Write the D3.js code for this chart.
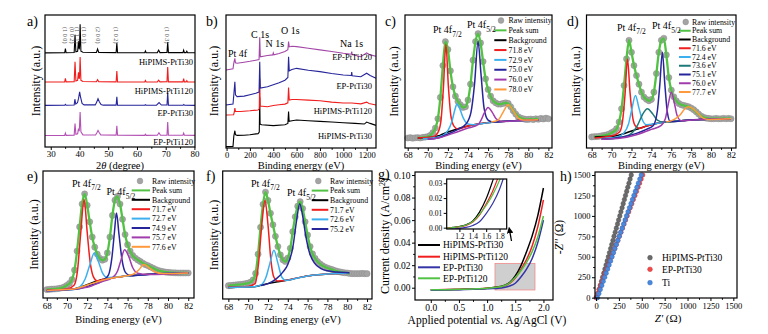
<!DOCTYPE html>
<html><head><meta charset="utf-8">
<script src="https://cdn.jsdelivr.net/npm/d3@7"></script>
<style>body{margin:0;background:#fff}</style>
</head><body>
<svg id="fig" width="768" height="334" xmlns="http://www.w3.org/2000/svg"></svg>
<script>
// ---------------- DATA ----------------
// (a) XRD patterns [2theta, intensity offset %]
const xrdHi30 = [[28,71.3],[34.85,71.4],[35.1,74.5],[35.35,71.4],[38.15,71.6],[38.45,85],[38.75,72.2],[39.35,72.5],[39.65,80],[39.9,74],[40.02,76],[40.22,93],[40.5,72.6],[41.2,71.8],[45.9,71.6],[46.3,74.2],[46.7,71.6],[52.75,71.5],[53.0,78.8],[53.25,71.5],[62.7,71.4],[62.95,72.8],[63.2,71.4],[67.1,71.5],[67.55,73.4],[68.0,71.5],[70.45,71.6],[70.7,79.5],[70.95,71.5],[76.0,71.5],[76.25,73.3],[76.5,71.5],[77.1,71.5],[77.35,72.5],[77.6,71.4],[80.2,71.4]];
const xrdHi120 = [[28,49.2],[34.85,49.3],[35.1,52],[35.35,49.3],[38.15,49.5],[38.45,64.5],[38.75,50],[39.35,50.5],[39.65,56.5],[39.9,51.5],[40.02,53],[40.22,68.2],[40.5,50.5],[41.2,49.6],[45.9,49.4],[46.3,51],[46.7,49.4],[52.75,49.3],[53.0,57.5],[53.25,49.3],[62.7,49.2],[62.95,50.3],[63.2,49.2],[67.1,49.3],[67.55,50.6],[68.0,49.3],[70.45,49.4],[70.7,60.5],[70.95,49.3],[76.0,49.3],[76.25,51.8],[76.5,49.3],[77.1,49.3],[77.35,50.3],[77.6,49.2],[80.2,49.2]];
const xrdEP30 = [[28,31.5],[34.85,31.6],[35.1,32.3],[35.35,31.6],[38.15,31.8],[38.4,36.2],[38.7,32.5],[39.3,33.5],[39.7,37],[40.05,41.8],[40.4,37.5],[40.9,33],[41.6,31.9],[45.5,31.9],[46.0,34],[46.45,36.6],[46.9,34.3],[47.5,32.2],[48.3,31.7],[52.75,31.7],[53.0,38],[53.25,31.7],[62.7,31.6],[62.95,32],[63.2,31.6],[66.8,31.7],[67.7,33.6],[68.5,31.8],[70.45,31.8],[70.7,41.3],[70.95,31.7],[76.0,31.6],[76.3,32.2],[76.6,31.6],[80.2,31.5]];
const xrdEP120 = [[28,8.7],[34.85,8.8],[35.1,10.5],[35.35,8.8],[38.15,9],[38.45,17.8],[38.75,9.6],[39.35,10],[39.65,14],[39.9,12],[40.02,16],[40.22,26.5],[40.5,11.5],[41.2,9.2],[45.6,9.1],[46.1,11],[46.45,12.6],[46.85,11],[47.4,9.2],[52.75,9],[53.0,16],[53.25,9],[62.7,8.8],[62.95,9.6],[63.2,8.8],[67.1,8.9],[67.65,10.8],[68.2,8.9],[70.45,9],[70.7,19],[70.95,8.9],[76.0,8.9],[76.25,10.5],[76.5,8.9],[80.2,8.8]];
const xrdNames = ["HiPIMS-PtTi30","HiPIMS-PtTi120","EP-PtTi30","EP-PtTi120"];
const hklLabels = [["(1 0 0)",35.2],["(0 0 2)",37.7],["(1 1 1)",39.3],["(1 0 1)",41.9],["(2 0 0)",46.6],["(1 0 2)",53.0],["(1 0 3)",70.6]];

// (b) XPS survey [binding energy, intensity offset %]
const survHi30 = [[-5,1],[55,1.2],[62,9],[71,13],[76,10],[90,9.5],[150,9.6],[200,10],[270,10.8],[280,12],[284,38],[287,18],[300,17.5],[400,16.8],[500,17.5],[525,18.5],[531,27.5],[536,20],[560,20.5],[600,21],[700,20.5],[800,20],[900,19.5],[1000,19],[1100,18.5],[1180,18],[1200,19.5],[1230,18.5],[1280,17]];
const survHi120 = [[-5,24.8],[60,25],[66,27],[71,30],[76,27.5],[120,27.5],[200,28],[270,28.6],[280,29.5],[284,52],[288,31.5],[350,31],[400,32],[450,32.5],[500,33],[525,34],[531,45.5],[537,36],[560,36.5],[600,36.5],[700,36],[800,35.5],[900,34.5],[1000,33.8],[1072,33.8],[1150,33.2],[1200,34.5],[1220,33.5],[1280,32.3]];
const survEP30 = [[-5,32.3],[55,33],[62,40],[71,49.8],[76,40],[90,38.6],[150,39],[200,40],[250,41.1],[278,42],[284,64.9],[289,45],[350,46],[400,47.5],[450,49],[500,51],[525,53],[531,68.6],[537,58],[560,59],[600,59.9],[700,58.5],[800,57.4],[900,56],[1000,54.9],[1068,54.5],[1072,57],[1076,54.3],[1150,53.6],[1200,56.2],[1230,54.5],[1280,52.4]];
const survEP120 = [[-5,58.6],[55,59.5],[62,64],[71,67.4],[76,64],[90,63.7],[150,64.5],[200,65.2],[250,66],[278,66.5],[284,83.2],[289,68.6],[350,69.5],[395,70],[400,71.5],[405,70],[450,71],[500,72.5],[525,74],[531,80],[537,76],[560,76.5],[600,76.2],[700,75],[800,73.8],[900,72.5],[1000,71.2],[1068,70.5],[1072,72.5],[1076,70.3],[1150,68.6],[1200,71.5],[1230,70],[1280,69]];

// (c-f) Pt 4f high resolution: raw intensity sampled every 0.25 eV from 68 to 82 eV
const cRaw = [7.5,7.8,7.4,7.7,7.8,7.5,8.0,8.2,8.6,9.5,11.5,15,22,38,62,80,74,58,46,39,35,32.5,30.5,31,36,48,66,80,86,79,65,52,44,39,35.5,34,33,33,33.5,34,33.5,31,28,25.5,23.5,22.5,22,21.5,21.5,21.8,21.4,22,21.6,22.2,21.8,22.4,22];
const dRaw = [8.3,8.5,8.6,8.8,9.2,9.5,9.8,10.5,11.5,12.5,14.5,19.5,29.5,47,67,81,72,62,54.5,48,42,38.3,36.6,35.5,36.5,42,56,72,81,82.5,70,53,43.5,38.5,35.5,33.5,32.5,32,31.5,31,30,28.8,27.2,25.5,24,23,22.5,22.2,22,22,22.2,22,22,22.3,22,22.2,22];
const eRaw = [6.6,6.8,7.0,7.1,7.3,7.6,8.0,8.8,10,11.5,14.5,22,37,56,74,82,73,60,48,40,34.5,31.3,29.8,30.5,35.5,48,65,77,80,74,62,50,42,37,33.5,31.5,30,28.8,27.5,26.3,25.5,24.5,23.6,22.6,21.8,21.2,20.8,20.4,20.2,20,19.9,19.8,19.7,19.7,19.7,19.7,19.7];
const fRaw = [10.4,10.6,10.8,11,11.2,11.4,11.7,12,12.4,13.2,15,20,35,56,74,83.5,77,67,58,49,41,34.5,30.6,29.3,32,39.6,52.6,64.2,72.5,76,70.7,60.3,50,41,35.2,31.8,29.3,27.5,26,25,24.2,23.5,22.9,22.2,21.6,21.2,20.8,20.5,20.3,20,19.8,19.8,19.8,19.8,20,19.8,19.8];

const cBg = [[69,7.5],[70.5,8],[71.2,9.5],[72,12],[73,14.5],[74,16.5],[75,18],[76.5,19.5],[78,20.3],[81,21.3]];
const cP1 = [[69,7.6],[70.5,8.3],[71,11.5],[71.3,20],[71.55,45],[71.8,78],[72.05,46],[72.3,24],[72.6,16.5],[73,14.3],[74,16.5],[75,18],[76.5,19.5],[78,20.3],[81,21.3]];
const cP2 = [[69.5,7],[70.5,7.5],[71.5,9.5],[72,13],[72.4,20],[72.7,29],[72.9,33],[73.1,31],[73.5,23],[74,18],[74.5,17.5],[75.5,18.5],[77,19.8],[79,20.5],[81,21.3]];
const cP3 = [[70,6.5],[71,7.5],[72,10.5],[73,14],[73.8,18],[74.3,27],[74.65,48],[75,80],[75.3,55],[75.6,30],[76,21],[76.5,19.5],[78,20.3],[81,21.3]];
const cP4 = [[70,6.5],[71,7.5],[72.5,11],[74,15],[75,17.5],[75.3,21],[75.6,26],[76,30.5],[76.4,27],[76.8,22],[77.3,20],[78.5,20.3],[81,21.3]];
const cP5 = [[76.3,19.5],[77,21],[77.5,27],[78,32.5],[78.5,28],[79,22.5],[79.5,21],[81,21.3]];
const cNames = ["71.8 eV","72.9 eV","75.0 eV","76.0 eV","78.0 eV"];

const dBg = [[68.3,8.3],[70.5,9.3],[71.5,11.5],[72.5,14],[73.5,16.5],[74.5,18.5],[75.5,19.5],[77,20.5],[79,21.5],[82,22]];
const dP1 = [[68.3,7.6],[70,9],[70.8,12],[71.1,20],[71.35,40],[71.6,67],[71.85,42],[72.1,24],[72.4,16.5],[72.8,14.8],[73.5,16.5],[74.5,18.5],[75.5,19.5],[77,20.5],[79,21.5],[82,22]];
const dP2 = [[69,7],[70.5,8],[71.2,11],[71.7,18],[72,28],[72.4,39.5],[72.75,30],[73.1,21],[73.5,17.5],[74.5,18.5],[75.5,19.5],[77,20.5],[79,21.5],[82,22]];
const dP3 = [[69,6.5],[71,8],[72,11],[72.6,17],[73.1,25],[73.6,29.5],[74.1,26],[74.6,21],[75.2,19.5],[76.5,20.2],[79,21.5],[82,22]];
const dP4 = [[69,6.5],[71,8],[72.5,11],[73.5,14],[74.2,17],[74.6,28],[74.85,48],[75.1,72],[75.35,48],[75.6,27],[75.9,20],[76.5,20],[77,20.5],[79,21.5],[82,22]];
const dP5 = [[69,6.5],[71,7.5],[72.5,10],[74,14],[75,17],[75.4,22],[75.7,33],[76,42],[76.3,34],[76.6,24],[77,20.5],[79,21.5],[82,22]];
const dP6 = [[75.5,19.5],[76.3,21.5],[76.9,25],[77.3,29],[77.7,31],[78.2,29.5],[78.7,26],[79.2,22.5],[79.8,21.5],[82,22]];
const dNames = ["71.6 eV","72.4 eV","73.6 eV","75.1 eV","76.0 eV","77.7 eV"];

const eBg = [[68,6],[70.5,7],[71.5,9],[72.5,12],[73.5,14.5],[74.5,16],[75.5,17],[77,18],[79,19],[82,19.7]];
const eP1 = [[68,6],[70,7],[70.7,10],[71.05,22],[71.35,50],[71.7,77.5],[72,52],[72.3,28],[72.6,17],[73,13.5],[73.5,14.5],[74.5,16],[75.5,17],[77,18],[79,19],[82,19.7]];
const eP2 = [[68,5.8],[70.5,6.5],[71.3,9],[71.8,15],[72.3,27],[72.7,35.5],[73.1,29],[73.5,20],[74,16],[74.8,16.5],[76,17.3],[78,18.5],[80,19.5],[82,19.7]];
const eP3 = [[68,5.8],[71,7],[72.5,10.5],[73.5,13.5],[74.1,18],[74.45,32],[74.7,52],[74.9,67],[75.15,50],[75.45,30],[75.8,20],[76.3,17.5],[78,18.5],[80,19.5],[82,19.7]];
const eP4 = [[68,5.8],[72,8.5],[73.5,13],[74.5,16],[75,21],[75.35,30],[75.7,38],[76.1,33],[76.5,24],[77,19.5],[78,18.5],[82,19.7]];
const eP5 = [[68,6],[70.5,6.8],[71.5,8.8],[72.5,11.5],[73.5,14],[74.5,15.8],[75.5,17],[76.5,18.5],[77.1,22],[77.6,26.3],[78.1,24],[78.7,20.5],[79.5,19.3],[82,19.7]];
const eNames = ["71.7 eV","72.7 eV","74.9 eV","75.7 eV","77.6 eV"];

const fBg = [[68,9],[70.5,9.5],[71.2,10.5],[72,12],[73,13.5],[74,14.8],[75,16.5],[76.5,18.5],[78,19.5],[80.2,20.3]];
const fP1 = [[68,9.3],[70,9.8],[70.7,12],[71.05,28],[71.4,60],[71.7,77],[72,58],[72.3,30],[72.6,17],[73,14],[74,14.8],[75,16.5],[76.5,18.5],[78,19.5],[80.2,20.3]];
const fP2 = [[68,9],[70.5,9.5],[71.3,11],[71.8,17],[72.2,28],[72.6,38],[73,28],[73.4,17],[73.8,14.5],[74.5,15.5],[76,18],[78,19.5],[80.2,20.3]];
const fP3 = [[71.3,10.5],[72,12],[72.8,15.5],[73.5,21],[74,27],[74.5,40],[74.9,62],[75.2,74.5],[75.5,65],[75.8,50],[76.2,36],[76.7,28],[77.3,24],[78,22],[79,21],[80.2,20.5]];
const fNames = ["71.7 eV","72.6 eV","75.2 eV"];

// (g) LSV curves
const potential = [0,0.25,0.5,0.75,1.0,1.1,1.2,1.3,1.4,1.5,1.6,1.7,1.8,1.9,2.0];
const jHi30  = [-0.0020,-0.0018,-0.0015,-0.0012,-0.0005,0.0002,0.0008,0.0020,0.0045,0.0105,0.0195,0.032,0.046,0.064,0.0885];
const jHi120 = [-0.0018,-0.0016,-0.0014,-0.0010,-0.0004,0.0000,0.0005,0.0015,0.0038,0.0085,0.0160,0.025,0.037,0.054,0.078];
const jEP30  = [-0.0022,-0.0020,-0.0017,-0.0014,-0.0010,-0.0008,-0.0005,0.0002,0.0015,0.0040,0.0095,0.0165,0.026,0.040,0.060];
const jEP120 = [-0.0019,-0.0017,-0.0014,-0.0011,-0.0005,0.0000,0.0006,0.0018,0.0042,0.0090,0.0150,0.0225,0.032,0.045,0.0636];
const lsvNames = ["HiPIMS-PtTi30","HiPIMS-PtTi120","EP-PtTi30","EP-PtTi120"];

// (h) Nyquist
const zImag = [0,50,100,150,200,250,300,350,400,450,500,550,600,650,700,750,800,850,900,950,1000,1050,1100,1150,1200,1250,1300,1350,1400,1450,1500];
const zReHi30 = [10,22,35,47,60,72,85,97,110,122,135,147,160,172,185,197,210,222,235,247,260,272,285,297,310,322,335,347,360,372,385];
const zReEP30 = [0,17,34,51,68,85,102,119,136,153,170,187,204,221,238,255,272,289,306,323,340,357,374,391,408,425,442,459,476,493,510];
const zReTi   = [15,31,47,63,79,95,111,127,143,159,175,190,206,222,238,254,270,286,302,318,334,350,366,382,398,414,430,446,462,478,494];
const nyqNames = ["HiPIMS-PtTi30","EP-PtTi30","Ti"];

// ---------------- DRAWING ----------------
const FONT = '"Liberation Serif","Times New Roman",serif';
const svg = d3.select("#fig");
const RED="#f01e1e", LBLUE="#3cb0ee", NAVY="#26259a", PURPLE="#a03cac", ORANGE="#ff9a3c", TEAL="#1e7a78", GREEN="#52c244";

function txt(x,y,s,o={}){
  const t=svg.append("text").attr("x",x).attr("y",y).attr("font-family",FONT)
    .attr("font-size",o.size||10).attr("fill",o.fill||"#000").attr("text-anchor",o.anchor||"start");
  if(o.rotate!==undefined) t.attr("transform",`rotate(${o.rotate},${x},${y})`);
  if(o.italic) t.attr("font-style","italic");
  t.text(s); return t;
}
function frame(x0,y0,x1,y1){
  svg.append("rect").attr("x",x0).attr("y",y0).attr("width",x1-x0).attr("height",y1-y0)
    .attr("fill","none").attr("stroke","#000").attr("stroke-width",1.2);
}
function axB(scale,y,vals,fmt,size,minor,pad){
  const g=svg.append("g").attr("transform",`translate(0,${y})`)
    .call(d3.axisBottom(scale).tickValues(vals).tickSize(3).tickSizeOuter(0).tickPadding(pad===undefined?1.5:pad).tickFormat(fmt||(d=>d)));
  g.select(".domain").remove();
  g.selectAll("text").attr("font-family",FONT).attr("font-size",size||9).attr("fill","#000");
  if(minor){const m=svg.append("g").attr("transform",`translate(0,${y})`).call(d3.axisBottom(scale).tickValues(minor).tickSize(1.8).tickFormat(""));m.select(".domain").remove();}
}
function axL(scale,x,vals,fmt,size,minor){
  const g=svg.append("g").attr("transform",`translate(${x},0)`)
    .call(d3.axisLeft(scale).tickValues(vals).tickSize(3).tickSizeOuter(0).tickPadding(1.5).tickFormat(fmt||(d=>d)));
  g.select(".domain").remove();
  g.selectAll("text").attr("font-family",FONT).attr("font-size",size||9).attr("fill","#000");
  if(minor){const m=svg.append("g").attr("transform",`translate(${x},0)`).call(d3.axisLeft(scale).tickValues(minor).tickSize(1.8).tickFormat(""));m.select(".domain").remove();}
}
function ylab(x,y,s,size){ return txt(x,y,s,{size:size||12,anchor:"middle",rotate:-90}); }

// ---- (a) XRD ----
{
  const x=d3.scaleLinear([28,80.2],[45,195]), y=d3.scaleLinear([0,100],[147,15]);
  const line=d3.line().x(d=>x(d[0])).y(d=>y(d[1]));
  [[xrdHi30,"#000"],[xrdHi120,RED],[xrdEP30,NAVY],[xrdEP120,"#b452b4"]].forEach(([d,c])=>{
    svg.append("path").attr("d",line(d)).attr("fill","none").attr("stroke",c).attr("stroke-width",1.1);
  });
  hklLabels.forEach(([s,t])=>txt(x(t)-2.5,27,s,{size:6.2,fill:"#555",rotate:90}));
  const ly=[65,93.5,116,145];
  xrdNames.forEach((n,i)=>txt(193,ly[i],n,{size:8.5,anchor:"end"}));
  frame(45,15,195,147);
  axB(x,147,[30,40,50,60,70,80],null,9,[35,45,55,65,75],0.8);
  const t=txt(120,168.5,"",{size:10.5,anchor:"middle"});
  t.append("tspan").text("2");t.append("tspan").attr("font-style","italic").text("θ");t.append("tspan").text(" (degree)");
  ylab(40,81,"Intensity (a.u.)");
  txt(27,26,"a)",{size:14});
}
// ---- (b) survey ----
{
  const x=d3.scaleLinear([-5,1280],[226,376]), y=d3.scaleLinear([0,100],[148,15]);
  const line=d3.line().x(d=>x(d[0])).y(d=>y(d[1]));
  [[survHi30,"#000"],[survHi120,RED],[survEP30,NAVY],[survEP120,"#a448a8"]].forEach(([d,c])=>{
    svg.append("path").attr("d",line(d)).attr("fill","none").attr("stroke",c).attr("stroke-width",1.1);
  });
  txt(228,56.5,"Pt 4f",{size:10});
  txt(251,37.5,"C 1s",{size:10});
  txt(265.5,46.5,"N 1s",{size:10});
  txt(281,34,"O 1s",{size:10});
  txt(340,46.5,"Na 1s",{size:10});
  [["EP-PtTi120",60],["EP-PtTi30",89],["HiPIMS-PtTi120",114],["HiPIMS-PtTi30",138.5]].forEach(([s,yy])=>txt(372,yy,s,{size:8.5,anchor:"end"}));
  frame(226,15,376,148);
  axB(x,148,[0,200,400,600,800,1000,1200],null,8.5,[100,300,500,700,900,1100],0.8);
  txt(301,168.5,"Binding energy (eV)",{size:10.5,anchor:"middle"});
  ylab(218,81,"Intensity (a.u.)");
  txt(206,26,"b)",{size:14});
}
// ---- (c-f) XPS ----
const rawE = d3.range(57).map(i=>68+i*0.25);
function xps(p){
  const [x0,y0,x1,y1]=p.box;
  const x=d3.scaleLinear(p.dom,[x0,x1]), y=d3.scaleLinear([0,100],[y1,y0]);
  const pts=p.raw.map((v,i)=>[rawE[i],v]);
  svg.append("g").selectAll("circle").data(pts).join("circle")
    .attr("cx",d=>x(d[0])).attr("cy",d=>y(d[1])).attr("r",3.1)
    .attr("fill","#a4a4a4").attr("stroke","#878787").attr("stroke-width",0.4);
  const line=d3.line().x(d=>x(d[0])).y(d=>y(d[1])).curve(d3.curveMonotoneX);
  const sum=pts.filter(d=>d[0]>=p.sum[0]-1e-6&&d[0]<=p.sum[1]+1e-6);
  svg.append("path").attr("d",line(sum)).attr("fill","none").attr("stroke",GREEN).attr("stroke-width",2.3);
  svg.append("path").attr("d",line(p.bg)).attr("fill","none").attr("stroke","#000").attr("stroke-width",1.5);
  p.comps.forEach((c,i)=>svg.append("path").attr("d",line(c)).attr("fill","none").attr("stroke",p.cols[i]).attr("stroke-width",1.5));
  // legend
  const L=p.leg, names=["Raw intensity","Peak sum","Background"].concat(p.names), cols=[null,GREEN,"#000"].concat(p.cols);
  names.forEach((n,i)=>{
    const yy=L.y0+i*L.dy;
    if(i===0) svg.append("circle").attr("cx",L.mx).attr("cy",yy).attr("r",2.9).attr("fill","#a4a4a4").attr("stroke","#878787").attr("stroke-width",0.4);
    else svg.append("line").attr("x1",L.lx0).attr("x2",L.lx1).attr("y1",yy).attr("y2",yy).attr("stroke",cols[i]).attr("stroke-width",2);
    txt(L.tx,yy+2.7,n,{size:7.8});
  });
  p.pk.forEach(([px,py,sub])=>{const t=txt(px,py,"Pt 4f",{size:10});t.append("tspan").attr("dy",3.5).attr("font-size",7.5).text(sub);});
  frame(x0,y0,x1,y1);
  axB(x,y1,[68,70,72,74,76,78,80,82],null,9,[69,71,73,75,77,79,81],p.pad);
  txt((x0+x1)/2,p.xlY,"Binding energy (eV)",{size:10.5,anchor:"middle"});
  ylab(p.ylX,(y0+y1)/2,"Intensity (a.u.)");
  txt(p.let[0],p.let[1],p.let[2],{size:14});
}
xps({box:[405,15,552,148],dom:[67.73,82.36],raw:cRaw,sum:[69,81],bg:cBg,comps:[cP1,cP2,cP3,cP4,cP5],cols:[RED,LBLUE,NAVY,PURPLE,ORANGE],names:cNames,pad:0.8,
  leg:{mx:501,lx0:494.3,lx1:506.5,tx:508.5,y0:20.5,dy:9.85},pk:[[433,33,"7/2"],[467,28,"5/2"]],xlY:168.5,ylX:398,let:[385,26,"c)"]});
xps({box:[586.5,15,736,148],dom:[67.48,82.5],raw:dRaw,sum:[68.25,82],bg:dBg,comps:[dP1,dP2,dP3,dP4,dP5,dP6],cols:[RED,LBLUE,TEAL,NAVY,PURPLE,ORANGE],names:dNames,pad:0.8,
  leg:{mx:685.7,lx0:679,lx1:690.7,tx:692,y0:22,dy:8.75},pk:[[617,30.5,"7/2"],[652,29,"5/2"]],xlY:168.5,ylX:580,let:[567,26,"d)"]});
xps({box:[43,171,194,298],dom:[67.63,82.57],raw:eRaw,sum:[68,82],bg:eBg,comps:[eP1,eP2,eP3,eP4,eP5],cols:[RED,LBLUE,NAVY,PURPLE,ORANGE],names:eNames,pad:1.5,
  leg:{mx:140,lx0:131.7,lx1:150,tx:152,y0:181,dy:9.4},pk:[[72,186.5,"7/2"],[106.5,195,"5/2"]],xlY:322.5,ylX:38,let:[27,181,"e)"]});
xps({box:[222.7,171,372,299],dom:[67.43,82.5],raw:fRaw,sum:[68,80.25],bg:fBg,comps:[fP1,fP2,fP3],cols:[RED,LBLUE,NAVY],names:fNames,pad:1.5,
  leg:{mx:318.3,lx0:311.7,lx1:328.3,tx:330,y0:181,dy:9.6},pk:[[251,186.5,"7/2"],[287,196,"5/2"]],xlY:322.5,ylX:218,let:[206,181,"f)"]});

// ---- (g) LSV ----
{
  const x=d3.scaleLinear([-0.28,2.17],[415,553]), y=d3.scaleLinear([-0.0109,0.1027],[300,172]);
  const cols=["#000",RED,"#3434a8",GREEN];
  const series=[jHi30,jHi120,jEP30,jEP120];
  svg.append("rect").attr("x",x(1.14)).attr("y",y(0.0216)).attr("width",x(1.85)-x(1.14)).attr("height",y(-0.002)-y(0.0216))
    .attr("fill","#cfcfcf").attr("stroke","#f08a8a").attr("stroke-width",0.8);
  const line=d3.line().x(d=>x(d[0])).y(d=>y(d[1])).curve(d3.curveMonotoneX);
  series.forEach((s,i)=>svg.append("path").attr("d",line(potential.map((v,k)=>[v,s[k]]))).attr("fill","none").attr("stroke",cols[i]).attr("stroke-width",1.5));
  // inset
  const ix=d3.scaleLinear([1.01,1.907],[446.7,506.7]), iy=d3.scaleLinear([-0.0009,0.0329],[229,179]);
  svg.append("defs").html('<clipPath id="inclip"><rect x="446.7" y="179" width="60" height="50"/></clipPath><marker id="arr" viewBox="0 0 10 10" refX="5" refY="5" markerWidth="5" markerHeight="5" orient="auto-start-reverse"><path d="M0,0L10,5L0,10z" fill="#000"/></marker>');
  svg.append("rect").attr("x",446.7).attr("y",179).attr("width",60).attr("height",50).attr("fill","#fff");
  const iline=d3.line().x(d=>ix(d[0])).y(d=>iy(d[1])).curve(d3.curveMonotoneX);
  const ig=svg.append("g").attr("clip-path","url(#inclip)");
  series.forEach((s,i)=>ig.append("path").attr("d",iline(potential.map((v,k)=>[v,s[k]]))).attr("fill","none").attr("stroke",cols[i]).attr("stroke-width",1.2));
  frame(446.7,179,506.7,229);
  axB(ix,229,[1.2,1.4,1.6,1.8],d3.format(".1f"),7.5);
  axL(iy,446.7,[0,0.01,0.02,0.03],d3.format(".2f"),7.5);
  svg.append("line").attr("x1",511.5).attr("y1",241).attr("x2",509.5).attr("y2",230).attr("stroke","#000").attr("stroke-width",1.3).attr("marker-end","url(#arr)");
  const ly=[245,256.7,267.3,278.3];
  lsvNames.forEach((n,i)=>{
    svg.append("line").attr("x1",418).attr("x2",440).attr("y1",ly[i]).attr("y2",ly[i]).attr("stroke",cols[i]).attr("stroke-width",2);
    txt(443,ly[i]+3.3,n,{size:9.5});
  });
  frame(415,172,553,300);
  axB(x,300,[0,0.5,1,1.5,2],d3.format(".1f"),9.5,[0.25,0.75,1.25,1.75]);
  axL(y,415,[0,0.02,0.04,0.06,0.08,0.1],d3.format(".2f"),9.5,[0.01,0.03,0.05,0.07,0.09]);
  const t=txt(487,324,"",{size:11.5,anchor:"middle"});
  t.append("tspan").text("Applied potential ");t.append("tspan").attr("font-style","italic").text("vs.");t.append("tspan").text(" Ag/AgCl (V)");
  const yl=txt(388.5,236,"",{size:12,anchor:"middle",rotate:-90});
  yl.append("tspan").text("Current density (A/cm");yl.append("tspan").attr("dy",-4).attr("font-size",8).text("2");yl.append("tspan").attr("dy",4).text(")");
  txt(378,179,"g)",{size:14});
}
// ---- (h) Nyquist ----
{
  const x=d3.scaleLinear([-11,1540],[595,737]), y=d3.scaleLinear([-4,1537],[298,172]);
  const sets=[[zReHi30,"#6a6a6a","#4a4a4a"],[zReEP30,"#ee4a4a","#c83030"],[zReTi,"#4a88dc","#2e66b8"]];
  sets.forEach(([re,f,s])=>{
    svg.append("g").selectAll("circle").data(re.map((v,i)=>[v,zImag[i]])).join("circle")
      .attr("cx",d=>x(d[0])).attr("cy",d=>y(d[1])).attr("r",2.3).attr("fill",f).attr("stroke",s).attr("stroke-width",0.4);
  });
  const ly=[257.7,269.3,282.7];
  nyqNames.forEach((n,i)=>{
    svg.append("circle").attr("cx",650).attr("cy",ly[i]).attr("r",2.4).attr("fill",sets[i][1]).attr("stroke",sets[i][2]).attr("stroke-width",0.4);
    txt(662,ly[i]+3.3,n,{size:9.5});
  });
  frame(595,172,737,298);
  axB(x,298,[0,250,500,750,1000,1250,1500],null,8.5,[125,375,625,875,1125,1375]);
  axL(y,595,[0,250,500,750,1000,1250,1500],null,8.5,[125,375,625,875,1125,1375]);
  const t=txt(668,322,"",{size:11,anchor:"middle"});
  t.append("tspan").attr("font-style","italic").text("Z'");t.append("tspan").text(" (Ω)");
  const yl=txt(563,237,"",{size:11.5,anchor:"middle",rotate:-90});
  yl.append("tspan").text("-");yl.append("tspan").attr("font-style","italic").text("Z''");yl.append("tspan").text(" (Ω)");
  txt(560,181,"h)",{size:14});
}
</script>
</body></html>
